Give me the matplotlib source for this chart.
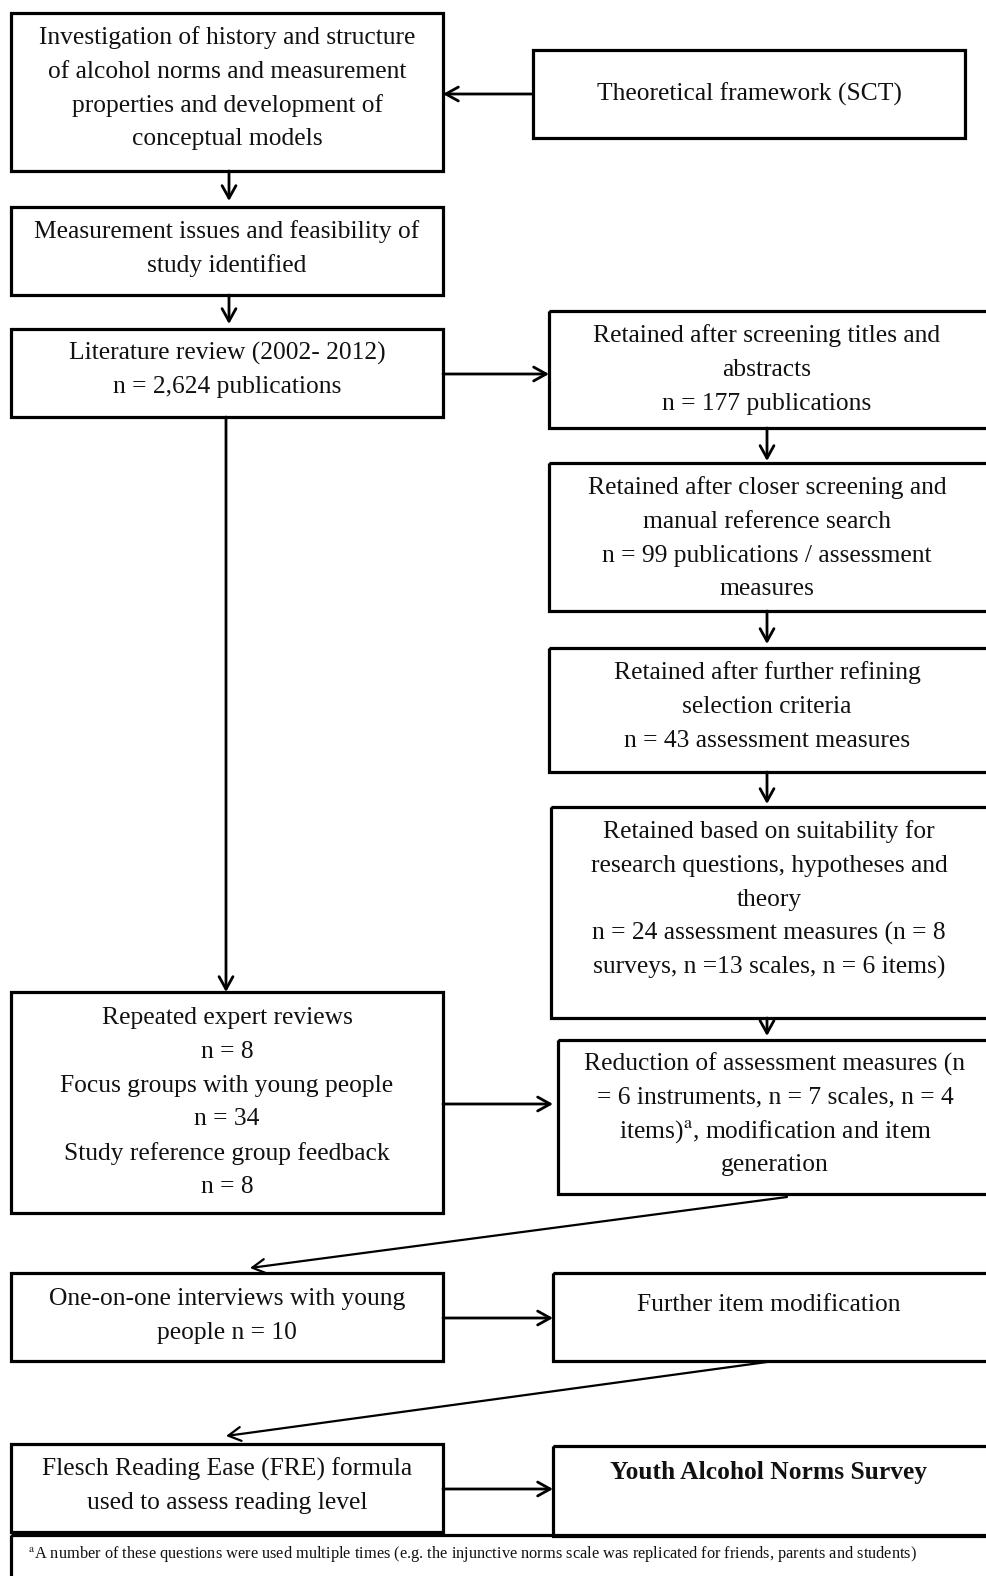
import matplotlib
matplotlib.use("Agg")
import matplotlib.pyplot as plt
from matplotlib.patches import Rectangle, FancyArrowPatch

plt.rcParams['font.family'] = ['Liberation Serif', 'DejaVu Serif']
plt.rcParams['mathtext.fontset'] = 'stix'

# Box texts
box_texts = [
    "Investigation of history and structure\nof alcohol norms and measurement\nproperties and development of\nconceptual models",
    "Theoretical framework (SCT)",
    "Measurement issues and feasibility of\nstudy identified",
    "Literature review (2002- 2012)\nn = 2,624 publications",
    "Retained after screening titles and\nabstracts\nn = 177 publications",
    "Retained after closer screening and\nmanual reference search\nn = 99 publications / assessment\nmeasures",
    "Retained after further refining\nselection criteria\nn = 43 assessment measures",
    "Retained based on suitability for\nresearch questions, hypotheses and\ntheory\nn = 24 assessment measures (n = 8\nsurveys, n =13 scales, n = 6 items)",
    "Reduction of assessment measures (n\n= 6 instruments, n = 7 scales, n = 4\nitems)$^{\\mathrm{a}}$, modification and item\ngeneration",
    "Repeated expert reviews\nn = 8\nFocus groups with young people\nn = 34\nStudy reference group feedback\nn = 8",
    "One-on-one interviews with young\npeople n = 10",
    "Further item modification",
    "Flesch Reading Ease (FRE) formula\nused to assess reading level",
    "Youth Alcohol Norms Survey",
]
footnote = "$^{\\mathrm{a}}$A number of these questions were used multiple times (e.g. the injunctive norms scale was replicated for friends, parents and students)"

# layout: (x0, y0, x1, y1, text_cx, first_line_center_y)
boxes = [
    (11, 13, 443, 171, 227, 38),
    (533, 50, 965, 138, 749, 94),
    (11, 207, 443, 295, 227, 232),
    (11, 329, 443, 417, 227, 353),
    (549, 311, 995, 428, 767, 336),
    (549, 463, 995, 611, 767, 488),
    (549, 648, 995, 772, 767, 673),
    (551, 807, 995, 1018, 769, 832),
    (558, 1040, 995, 1194, 775, 1064),
    (11, 992, 443, 1213, 227, 1018),
    (11, 1273, 443, 1361, 227, 1299),
    (553, 1273, 995, 1361, 769, 1305),
    (11, 1444, 443, 1532, 227, 1469),
    (553, 1446, 995, 1536, 769, 1472),
]
bold_idx = {13}

arrows = [
    ((533, 94), (443, 94)),
    ((229, 171), (229, 201)),
    ((229, 295), (229, 324)),
    ((443, 374), (549, 374)),
    ((226, 417), (226, 992)),
    ((767, 428), (767, 461)),
    ((767, 611), (767, 644)),
    ((767, 772), (767, 804)),
    ((767, 1018), (767, 1036)),
    ((443, 1104), (553, 1104)),
    ((787, 1197), (250, 1268)),
    ((443, 1318), (553, 1318)),
    ((767, 1362), (226, 1436)),
    ((443, 1489), (553, 1489)),
]

W, H = 987, 1576
fig = plt.figure(figsize=(W / 100, H / 100), dpi=100)
ax = fig.add_axes([0, 0, 1, 1])
ax.set_xlim(0, W)
ax.set_ylim(H, 0)
ax.axis('off')

LS = 33.8  # line pitch px
FS = 18.4
for i, ((x0, y0, x1, y1, cx, ty), txt) in enumerate(zip(boxes, box_texts)):
    ax.add_patch(Rectangle((x0, y0), x1 - x0, y1 - y0, fill=False, lw=2.3,
                           edgecolor='black', joinstyle='miter', clip_on=True))
    for k, line in enumerate(txt.split("\n")):
        ax.text(cx, ty + k * LS, line, ha='center', va='center', fontsize=FS,
                fontweight='bold' if i in bold_idx else 'normal', color='#111111')

# footnote box
ax.add_patch(Rectangle((11, 1535), 990, 60, fill=False, lw=2.3, edgecolor='black'))
ax.text(28, 1554, footnote, ha='left', va='center', fontsize=11.8, color='#111111')

for (p0, p1) in arrows:
    ax.add_patch(FancyArrowPatch(p0, p1, arrowstyle='->,head_length=9,head_width=5',
                                 lw=2.0 if p0[1] == p1[1] or p0[0] == p1[0] else 1.6,
                                 color='black', mutation_scale=1, shrinkA=0, shrinkB=0))

fig.savefig("out.png", dpi=100)
